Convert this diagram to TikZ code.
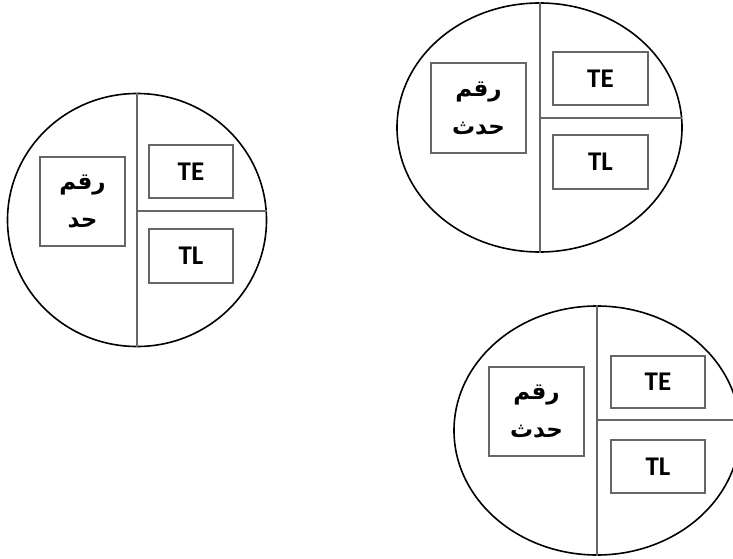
\documentclass[tikz,border=0pt]{standalone}
\usepackage{fontspec}
\setmainfont{Carlito}
\newfontfamily\arabicfont[Script=Arabic]{DejaVu Sans}
\TeXXeTstate=1
\usetikzlibrary{shapes.geometric}

\tikzset{
  eventcircle/.style={draw, ellipse, line width=1.6pt, inner sep=0pt},
  numbox/.style={draw=black!60, line width=2pt, align=center, text depth=0pt, font=\arabicfont\bfseries\fontsize{23}{38}\selectfont},
  timebox/.style={draw=black!60, line width=2pt, font=\bfseries\fontsize{27}{30}\selectfont},
  divider/.style={draw=black!60, line width=2pt}
}

\begin{document}
\begin{tikzpicture}[x=1pt, y=-1pt]
\useasboundingbox (0,0) rectangle (733,559);
\clip (0,0) rectangle (733,559);

\node[eventcircle, minimum width=259pt, minimum height=253pt] (ev1) at (137,220) {};
\node[numbox, minimum width=85pt, minimum height=89pt] (num1) at (82.5,201.5) {\beginR رقم\endR\\\beginR حد\endR};
\node[timebox, minimum width=84pt, minimum height=53pt] (te1) at (191,171.5) {TE};
\node[timebox, minimum width=84pt, minimum height=54pt] (tl1) at (191,256) {TL};
\draw[divider] (ev1.north) -- (ev1.south);
\draw[divider] (ev1.north |- ev1.4) -- (ev1.4);

\node[eventcircle, minimum width=285pt, minimum height=249pt] (ev2) at (539.5,127.5) {};
\node[numbox, minimum width=95pt, minimum height=90pt] (num2) at (478.5,108) {\beginR رقم\endR\\\beginR حدث\endR};
\node[timebox, minimum width=95pt, minimum height=53pt] (te2) at (600.5,78.5) {TE};
\node[timebox, minimum width=95pt, minimum height=54pt] (tl2) at (600.5,162) {TL};
\draw[divider] (ev2.north) -- (ev2.south);
\draw[divider] (ev2.north |- ev2.4) -- (ev2.4);

\node[eventcircle, minimum width=286pt, minimum height=249pt] (ev3) at (597,430.5) {};
\node[numbox, minimum width=95pt, minimum height=89pt] (num3) at (536.5,411.5) {\beginR رقم\endR\\\beginR حدث\endR};
\node[timebox, minimum width=94pt, minimum height=52pt] (te3) at (658,382) {TE};
\node[timebox, minimum width=94pt, minimum height=53pt] (tl3) at (658,466.5) {TL};
\draw[divider] (ev3.north) -- (ev3.south);
\draw[divider] (ev3.north |- ev3.4) -- (ev3.4);
\end{tikzpicture}
\end{document}
